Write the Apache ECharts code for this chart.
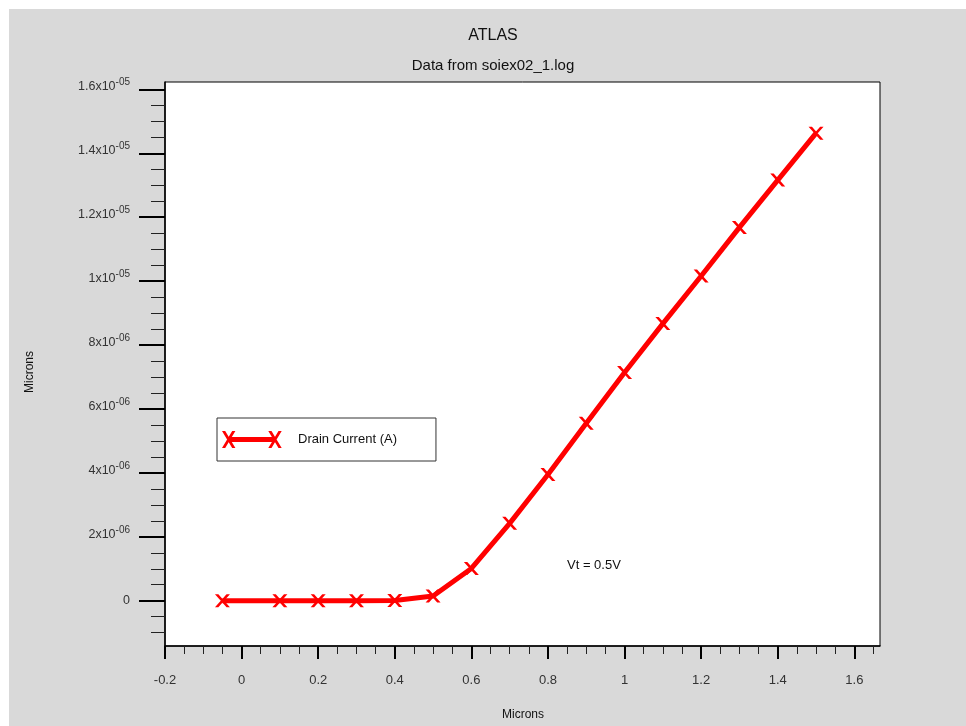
<!DOCTYPE html>
<html>
<head>
<meta charset="utf-8">
<script src="https://cdn.jsdelivr.net/npm/echarts@6/dist/echarts.min.js"></script>
<style>
  html, body { margin: 0; padding: 0; background: #fff; }
  #chart { width: 966px; height: 726px; }
</style>
</head>
<body>
<div id="chart"></div>
<script>
// Gate sweep and drain current from soiex02_1.log
const gateVoltage = [-0.05, 0.1, 0.2, 0.3, 0.4, 0.5, 0.6, 0.7, 0.8, 0.9, 1.0, 1.1, 1.2, 1.3, 1.4, 1.5];
const drainCurrent = [0, 0, 0, 0, 0.01e-6, 0.15e-6, 1.01e-6, 2.42e-6, 3.95e-6, 5.55e-6, 7.14e-6, 8.67e-6, 10.16e-6, 11.68e-6, 13.16e-6, 14.63e-6];

// Axis ticks and labels
const xTickValues = [-0.2, 0, 0.2, 0.4, 0.6, 0.8, 1.0, 1.2, 1.4, 1.6];
const xTickLabels = ['-0.2', '0', '0.2', '0.4', '0.6', '0.8', '1', '1.2', '1.4', '1.6'];
const yTickValues = [0, 2e-6, 4e-6, 6e-6, 8e-6, 1e-5, 1.2e-5, 1.4e-5, 1.6e-5];
const yTickMantissa = ['0', '2x10', '4x10', '6x10', '8x10', '1x10', '1.2x10', '1.4x10', '1.6x10'];
const yTickExponent = ['', '-06', '-06', '-06', '-06', '-05', '-05', '-05', '-05'];

const X_MIN = -0.2, X_MAX = 1.667;
const Y_MIN = -1.417e-6, Y_MAX = 1.623e-5;

function minorBetween(major, step, lo, hi) {
  const out = [];
  for (let v = lo; v <= hi + step * 1e-6; v += step) {
    const r = Math.round(v / step) * step;
    if (!major.some(m => Math.abs(m - r) < step * 1e-3)) out.push(r);
  }
  return out;
}
const xMinorTicks = minorBetween(xTickValues, 0.05, -0.15, 1.65);
const yMinorTicks = minorBetween(yTickValues, 5e-7, -1e-6, 1.55e-5);

function indexOf(arr, v, eps) {
  for (let i = 0; i < arr.length; i++) if (Math.abs(arr[i] - v) < eps) return i;
  return -1;
}

const FONT = '"Liberation Sans", Arial, Helvetica, sans-serif';
const markerX = 'path://M0,0 L3.4,0 L15,13 L11.6,13 Z M11.6,0 L15,0 L3.4,13 L0,13 Z';
const legendIcon = 'path://' +
  'M0,0 L3.2,0 L13.4,17 L10.2,17 Z M10.2,0 L13.4,0 L3.2,17 L0,17 Z ' +
  'M46.3,0 L49.5,0 L59.7,17 L56.5,17 Z M56.5,0 L59.7,0 L49.5,17 L46.3,17 Z ' +
  'M6.7,6 L53,6 L53,11 L6.7,11 Z ' +
  'M70.99,8.5 L71,8.5 L71,8.51 Z';

const chart = echarts.init(document.getElementById('chart'));
chart.setOption({
  backgroundColor: '#d9d9d9',
  animation: false,
  textStyle: { fontFamily: FONT },
  grid: {
    left: 165, right: 86, top: 82, bottom: 80,
    show: true, backgroundColor: '#ffffff', borderColor: '#000', borderWidth: 1
  },
  legend: {
    data: ['Drain Current (A)'],
    left: 217, top: 418,
    itemWidth: 71, itemHeight: 17,
    padding: [13, 39, 13, 5],
    backgroundColor: '#fff', borderColor: '#333', borderWidth: 1,
    icon: legendIcon,
    selectedMode: false,
    textStyle: { fontSize: 13, color: '#111', fontFamily: FONT }
  },
  xAxis: [
    {
      type: 'value', min: X_MIN, max: X_MAX, position: 'bottom',
      splitLine: { show: false },
      axisLine: { show: true, onZero: false, lineStyle: { color: '#000', width: 1.5 } },
      axisTick: { show: true, customValues: xTickValues, length: 13, lineStyle: { color: '#000', width: 2 } },
      axisLabel: {
        customValues: xTickValues, margin: 28, fontSize: 13, color: '#333', fontFamily: FONT,
        formatter: v => { const i = indexOf(xTickValues, v, 1e-6); return i < 0 ? '' : xTickLabels[i]; }
      }
    },
    {
      type: 'value', min: X_MIN, max: X_MAX, position: 'bottom',
      splitLine: { show: false },
      axisLine: { show: false, onZero: false },
      axisTick: { show: true, customValues: xMinorTicks, length: 8, lineStyle: { color: '#222', width: 1 } },
      axisLabel: { show: false }
    }
  ],
  yAxis: [
    {
      type: 'value', min: Y_MIN, max: Y_MAX, position: 'left',
      splitLine: { show: false },
      axisLine: { show: true, onZero: false, lineStyle: { color: '#000', width: 1.5 } },
      axisTick: { show: true, customValues: yTickValues, length: 26, lineStyle: { color: '#000', width: 2 } },
      axisLabel: {
        customValues: yTickValues, margin: 35, color: '#333', fontFamily: FONT,
        padding: [0, 0, 6, 0],
        formatter: v => {
          const i = indexOf(yTickValues, v, 1e-9);
          if (i < 0) return '';
          return yTickExponent[i] ? '{m|' + yTickMantissa[i] + '}{e|' + yTickExponent[i] + '}' : '{z|' + yTickMantissa[i] + '}';
        },
        rich: {
          m: { fontSize: 12.5, lineHeight: 14, verticalAlign: 'bottom', color: '#333', fontFamily: FONT },
          e: { fontSize: 10, lineHeight: 10, padding: [0, 0, 6, 0], verticalAlign: 'bottom', color: '#333', fontFamily: FONT },
          z: { fontSize: 12.5, lineHeight: 14, padding: [6, 0, 0, 0], color: '#333', fontFamily: FONT }
        }
      }
    },
    {
      type: 'value', min: Y_MIN, max: Y_MAX, position: 'left',
      splitLine: { show: false },
      axisLine: { show: false, onZero: false },
      axisTick: { show: true, customValues: yMinorTicks, length: 14, lineStyle: { color: '#222', width: 1 } },
      axisLabel: { show: false }
    }
  ],
  series: [
    {
      name: 'Drain Current (A)',
      type: 'line',
      xAxisIndex: 0, yAxisIndex: 0,
      data: gateVoltage.map((v, i) => [v, drainCurrent[i]]),
      symbol: markerX,
      symbolSize: [15, 13],
      showAllSymbol: true,
      lineStyle: { color: '#ff0000', width: 5 },
      itemStyle: { color: '#ff0000' },
      clip: false
    }
  ],
  graphic: [
    { type: 'rect', shape: { x: 0, y: 0, width: 966, height: 9 }, style: { fill: '#fff' }, silent: true },
    { type: 'rect', shape: { x: 0, y: 0, width: 9, height: 726 }, style: { fill: '#fff' }, silent: true },
    { type: 'text', x: 493, y: 36, style: { text: 'ATLAS', font: '16px ' + FONT, fill: '#111', align: 'center', verticalAlign: 'middle' } },
    { type: 'text', x: 493, y: 66, style: { text: 'Data from soiex02_1.log', font: '15px ' + FONT, fill: '#111', align: 'center', verticalAlign: 'middle' } },
    { type: 'text', x: 523, y: 715, style: { text: 'Microns', font: '12px ' + FONT, fill: '#111', align: 'center', verticalAlign: 'middle' } },
    { type: 'text', x: 30, y: 372, rotation: Math.PI / 2, style: { text: 'Microns', font: '12px ' + FONT, fill: '#111', align: 'center', verticalAlign: 'middle' } },
    { type: 'text', x: 567, y: 565, style: { text: 'Vt = 0.5V', font: '13px ' + FONT, fill: '#111', align: 'left', verticalAlign: 'middle' } }
  ]
});
</script>
</body>
</html>
